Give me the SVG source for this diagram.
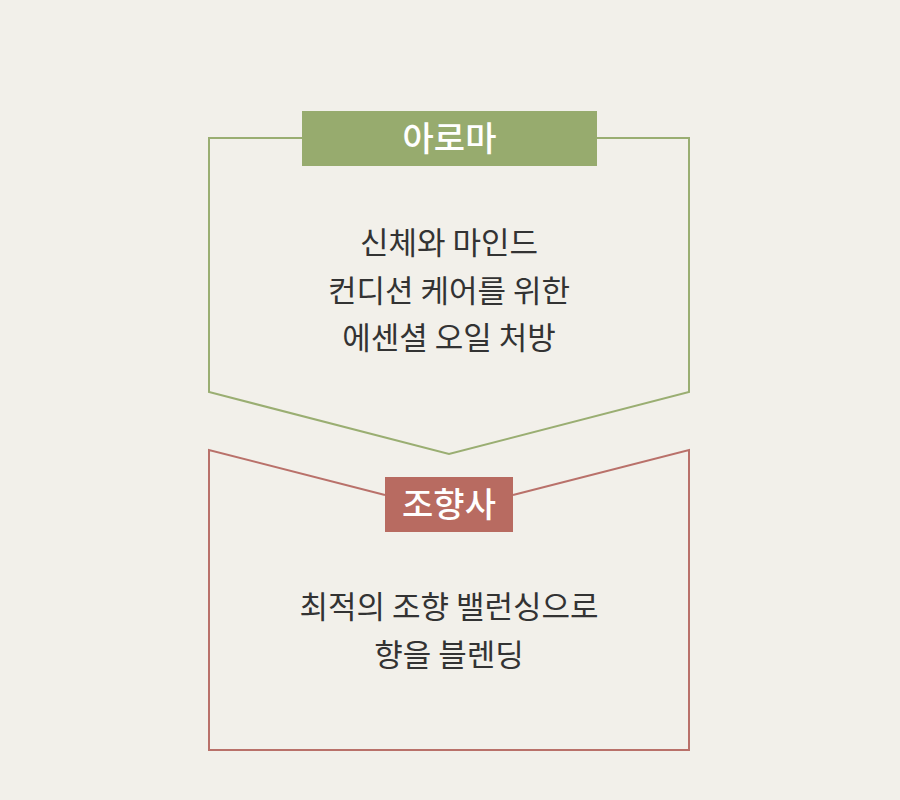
<svg xmlns="http://www.w3.org/2000/svg" width="900" height="800" viewBox="0 0 900 800">
<style>
.body{font-family:"Noto Sans CJK KR","Noto Sans",sans-serif;font-size:31px;fill:#333333;text-anchor:middle;}
.lbl{font-family:"Noto Sans CJK KR","Noto Sans",sans-serif;font-size:34px;font-weight:500;fill:#ffffff;text-anchor:middle;}
.g{fill:none;stroke:#9aae72;stroke-width:2;}
.r{fill:none;stroke:#b9716a;stroke-width:2;}
</style>
<rect width="900" height="800" fill="#f2f0ea"/>
<g id="aroma">
<path class="g" d="M302 138 H209 V392 L449 454 L689 392 V138 H597"/>
<rect x="302" y="111" width="295" height="55" fill="#97ab6e"/>
<text class="lbl" x="449.5" y="151">아로마</text>
<text class="body" x="449" y="254">신체와 마인드</text>
<text class="body" x="449" y="302">컨디션 케어를 위한</text>
<text class="body" x="449" y="349">에센셜 오일 처방</text>
</g>
<g id="perfumer">
<path class="r" d="M385 495 L209 450 V750 H689 V450 L513 495"/>
<rect x="385" y="477" width="128" height="55" fill="#b86b61"/>
<text class="lbl" x="449" y="517">조향사</text>
<text class="body" x="449" y="618">최적의 조향 밸런싱으로</text>
<text class="body" x="449" y="666">향을 블렌딩</text>
</g>
<g id="connectors"></g>
</svg>
